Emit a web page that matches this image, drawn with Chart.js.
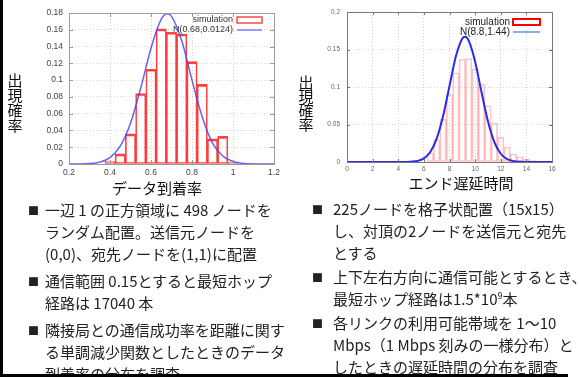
<!DOCTYPE html>
<html>
<head>
<meta charset="utf-8">
<title>データ到着率 / エンド遅延時間</title>
<script src="https://cdn.jsdelivr.net/npm/chart.js"></script>
<style>
  body { margin:0; width:579px; height:377px; overflow:hidden; background:#fff; position:relative;
         font-family:"Noto Sans CJK JP", sans-serif; color:#222; }
  canvas { position:absolute; top:0; }
  #leftChart { left:0; }
  #rightChart { left:290px; }
  .ytitle { position:absolute; font-size:15px; line-height:15px; width:16px; text-align:center; color:#111; }
  .xtitle { position:absolute; font-size:15px; line-height:15px; white-space:nowrap; transform:translateX(-50%); color:#111; }
  .col { position:absolute; font-size:15px; line-height:22px; }
  .col p { margin:0; position:relative; white-space:nowrap; }
  .col .b { position:absolute; font-size:11px; }
  sup { font-size:9px; line-height:0; }
  #vline { position:absolute; left:0; top:0; width:3px; height:377px; background:#000; }
  #hline { position:absolute; left:0; top:374px; width:568px; height:3px; background:#000; }
</style>
</head>
<body>
<canvas id="leftChart" width="290" height="200"></canvas>
<canvas id="rightChart" width="289" height="200"></canvas>

<div class="ytitle" style="left:7px; top:72px;">出<br>現<br>確<br>率</div>
<div class="ytitle" style="left:298px; top:75px; line-height:14px;">出<br>現<br>確<br>率</div>
<div class="xtitle" style="left:157px; top:180px;">データ到着率</div>
<div class="xtitle" style="left:461px; top:175px;">エンド遅延時間</div>

<div class="col" style="left:45px; top:199px;">
  <p><span class="b" style="left:-17px;">■</span>一辺 1 の正方領域に 498 ノードを<br>ランダム配置。送信元ノードを<br>(0,0)、宛先ノードを(1,1)に配置</p>
  <p style="margin-top:5px;"><span class="b" style="left:-17px;">■</span>通信範囲 0.15とすると最短ホップ<br>経路は 17040 本</p>
  <p style="margin-top:5px;"><span class="b" style="left:-17px;">■</span>隣接局との通信成功率を距離に関す<br>る単調減少関数としたときのデータ<br>到着率の分布を調査</p>
</div>

<div class="col" style="left:333px; top:198px;">
  <p><span class="b" style="left:-21px;">■</span>225ノードを格子状配置（15x15）<br>し、対頂の2ノードを送信元と宛先<br>とする</p>
  <p style="margin-top:2px;"><span class="b" style="left:-21px;">■</span>上下左右方向に通信可能とするとき、<br>最短ホップ経路は1.5*10<sup>9</sup>本</p>
  <p style="margin-top:2px;"><span class="b" style="left:-21px;">■</span>各リンクの利用可能帯域を 1～10<br>Mbps（1 Mbps 刻みの一様分布）と<br>したときの遅延時間の分布を調査</p>
</div>

<div id="vline"></div>
<div id="hline"></div>

<script>
// left: data arrival rate histogram
const leftBinX = [0.40, 0.45, 0.50, 0.55, 0.60, 0.65, 0.70, 0.75, 0.80, 0.85, 0.90, 0.95, 1.00];
const leftBinY = [0.003, 0.012, 0.036, 0.084, 0.113, 0.161, 0.157, 0.155, 0.122, 0.095, 0.030, 0.033, 0.002];
const leftCurveX = [0.20, 0.25, 0.30, 0.35, 0.40, 0.45, 0.50, 0.55, 0.60, 0.65, 0.68, 0.70, 0.75, 0.80, 0.85, 0.90, 0.95, 1.00, 1.05, 1.10, 1.15, 1.20];
const leftCurveY = [0, 0.0001, 0.0005, 0.0022, 0.0076, 0.0212, 0.0485, 0.0906, 0.138, 0.1726, 0.179, 0.176, 0.147, 0.100, 0.056, 0.025, 0.0095, 0.0029, 0.0007, 0.0001, 0, 0];
const leftXTicks = [0.2, 0.4, 0.6, 0.8, 1.0, 1.2];
const leftYTicks = [0, 0.02, 0.04, 0.06, 0.08, 0.1, 0.12, 0.14, 0.16, 0.18];
const leftLabels = ['simulation', 'N(0.68,0.0124)'];

// right: end-to-end delay histogram
const rightBinX = [6.5, 7.0, 7.5, 8.0, 8.5, 9.0, 9.5, 10.0, 10.5, 11.0, 11.5, 12.0, 12.5, 13.0, 13.5, 14.0, 14.5, 15.0];
const rightBinY = [0.012, 0.030, 0.057, 0.090, 0.119, 0.137, 0.138, 0.124, 0.104, 0.075, 0.052, 0.033, 0.020, 0.011, 0.007, 0.004, 0.002, 0.001];
const rightCurveX = [0, 1, 2, 3, 4, 4.5, 5, 5.5, 6, 6.5, 7, 7.5, 8, 8.5, 9, 9.2, 9.5, 10, 10.5, 11, 11.5, 12, 12.5, 13, 13.5, 14, 15, 16];
const rightCurveY = [0, 0, 0, 0, 0, 0.0001, 0.0004, 0.0014, 0.0048, 0.0133, 0.0311, 0.0612, 0.1013, 0.1409, 0.1647, 0.167, 0.1619, 0.1337, 0.0929, 0.0542, 0.0266, 0.011, 0.0038, 0.0011, 0.0003, 0.0001, 0, 0];
const rightXTicks = [0, 2, 4, 6, 8, 10, 12, 14, 16];
const rightYTicks = [0, 0.05, 0.1, 0.15, 0.2];
const rightLabels = ['simulation', 'N(8.8,1.44)'];

Chart.defaults.font.family = 'Liberation Sans';
Chart.defaults.animation = false;

const pts = (xs, ys) => xs.map((x, i) => ({ x: x, y: ys[i] }));
const fmt = v => String(+v.toFixed(4));

// plot box + gnuplot style inward ticks
const framePlugin = {
  id: 'frame',
  afterDatasetsDraw(chart, args, o) {
    const { ctx, chartArea: a } = chart;
    const sx = chart.scales.x, sy = chart.scales.y;
    ctx.save();
    ctx.strokeStyle = o.color;
    ctx.lineWidth = 1;
    ctx.beginPath();
    sx.ticks.forEach(t => {
      const p = Math.round(sx.getPixelForValue(t.value)) + 0.5;
      ctx.moveTo(p, a.bottom); ctx.lineTo(p, a.bottom - o.len);
      ctx.moveTo(p, a.top); ctx.lineTo(p, a.top + o.len);
    });
    sy.ticks.forEach(t => {
      const p = Math.round(sy.getPixelForValue(t.value)) + 0.5;
      ctx.moveTo(a.left, p); ctx.lineTo(a.left + o.len, p);
      ctx.moveTo(a.right, p); ctx.lineTo(a.right - o.len, p);
    });
    ctx.stroke();
    ctx.strokeRect(Math.round(a.left) + 0.5, Math.round(a.top) + 0.5, Math.round(a.width), Math.round(a.height));
    ctx.restore();
  }
};

// key drawn inside the plot, top right
const keyPlugin = {
  id: 'key',
  beforeDatasetsDraw(chart, args, o) {
    const { ctx, chartArea: a } = chart;
    ctx.save();
    ctx.font = o.font;
    ctx.fillStyle = o.color;
    ctx.textAlign = 'right';
    ctx.textBaseline = 'middle';
    chart.data.datasets.forEach((ds, i) => {
      const y = a.top + o.rows[i];
      ctx.fillText(ds.label, a.right - o.textGap, y);
      if (i === 0) {
        ctx.strokeStyle = o.boxColor;
        ctx.lineWidth = o.boxWidth;
        ctx.strokeRect(a.right - o.sampleL, y - 3, o.sampleL - 12, 6);
      } else {
        ctx.strokeStyle = o.lineColor;
        ctx.lineWidth = o.lineWidth;
        ctx.beginPath();
        ctx.moveTo(a.right - o.sampleL, y); ctx.lineTo(a.right - 12, y);
        ctx.stroke();
      }
    });
    ctx.restore();
  }
};

function makeChart(id, cfg) {
  return new Chart(document.getElementById(id), {
    type: 'bar',
    data: {
      datasets: [{
        label: cfg.labels[0],
        data: pts(cfg.binX, cfg.binY),
        backgroundColor: 'rgba(0,0,0,0)',
        borderColor: cfg.barColor,
        borderWidth: cfg.barBorder,
        borderSkipped: false,
        barPercentage: 1.0,
        categoryPercentage: 1.0,
        order: 2
      }, {
        type: 'line',
        label: cfg.labels[1],
        data: pts(cfg.curveX, cfg.curveY),
        borderColor: cfg.curveColor,
        borderWidth: cfg.curveWidth,
        pointRadius: 0,
        cubicInterpolationMode: 'monotone',
        fill: false,
        order: 1
      }]
    },
    options: {
      responsive: false,
      layout: { padding: cfg.padding },
      plugins: {
        legend: { display: false },
        tooltip: { enabled: false },
        frame: cfg.frame,
        key: cfg.key
      },
      scales: {
        x: {
          type: 'linear',
          offset: false,
          min: cfg.xTicks[0],
          max: cfg.xTicks[cfg.xTicks.length - 1],
          afterBuildTicks: s => { s.ticks = cfg.xTicks.map(v => ({ value: v })); },
          afterFit: s => { s.height = cfg.xHeight; },
          grid: { color: '#d4d4d4', drawTicks: false, offset: false },
          border: { display: false, dash: [1, 2] },
          ticks: { padding: cfg.xPad, maxRotation: 0, autoSkip: false, color: cfg.tickColor,
                   font: { size: cfg.tickSize }, callback: fmt }
        },
        y: {
          min: cfg.yTicks[0],
          max: cfg.yTicks[cfg.yTicks.length - 1],
          afterBuildTicks: s => { s.ticks = cfg.yTicks.map(v => ({ value: v })); },
          afterFit: s => { s.width = cfg.yWidth; },
          grid: { color: '#d4d4d4', drawTicks: false },
          border: { display: false, dash: [1, 2] },
          ticks: { padding: cfg.yPad, autoSkip: false, color: cfg.tickColor,
                   font: { size: cfg.tickSize }, callback: fmt }
        }
      }
    },
    plugins: [framePlugin, keyPlugin]
  });
}

makeChart('leftChart', {
  binX: leftBinX, binY: leftBinY, curveX: leftCurveX, curveY: leftCurveY,
  xTicks: leftXTicks, yTicks: leftYTicks, labels: leftLabels,
  barColor: 'rgba(255,30,30,0.85)', barBorder: { top: 2, left: 1, right: 1, bottom: 1 },
  curveColor: 'rgba(70,70,245,0.85)', curveWidth: 1.5,
  padding: { top: 13, right: 16, left: 0, bottom: 0 }, xHeight: 36, yWidth: 69,
  xPad: 4, yPad: 6, tickColor: '#444', tickSize: 8.5,
  frame: { color: '#9a9a9a', len: 4 },
  key: { font: '9px "Liberation Sans"', color: '#333', rows: [7, 17], textGap: 41, sampleL: 37,
         boxColor: 'rgba(255,40,40,0.85)', boxWidth: 1.5, lineColor: '#7a7aff', lineWidth: 1.5 }
});

makeChart('rightChart', {
  binX: rightBinX, binY: rightBinY, curveX: rightCurveX, curveY: rightCurveY,
  xTicks: rightXTicks, yTicks: rightYTicks, labels: rightLabels,
  barColor: 'rgba(255,120,120,0.45)', barBorder: 1,
  curveColor: '#2a2ae8', curveWidth: 2,
  padding: { top: 12, right: 27, left: 0, bottom: 0 }, xHeight: 38, yWidth: 57,
  xPad: 3, yPad: 7, tickColor: '#666', tickSize: 6.5,
  frame: { color: '#777', len: 3 },
  key: { font: '10px "Liberation Sans"', color: '#222', rows: [10, 20], textGap: 42, sampleL: 39,
         boxColor: '#ff0000', boxWidth: 2, lineColor: '#3b78d8', lineWidth: 1.2 }
});
</script>
</body>
</html>
